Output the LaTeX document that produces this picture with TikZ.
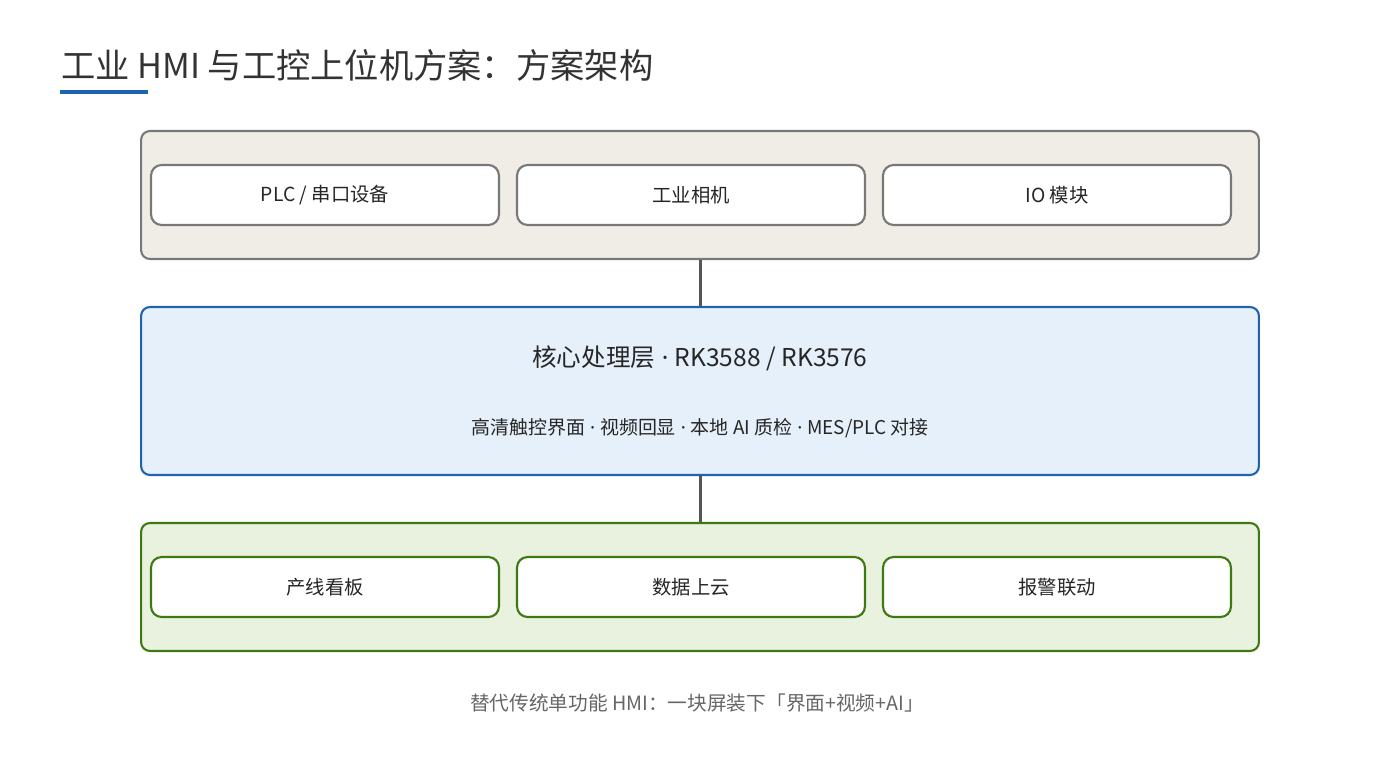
\documentclass[tikz,border=0pt]{standalone}
\usepackage{fontspec}
\setmainfont{Noto Sans CJK SC}
\newfontfamily\latinfont{Noto Sans}
\newcommand\sepdot{{\latinfont\ ·\ }}
\usepackage{tikz}
\definecolor{inputfill}{HTML}{F0EDE6}
\definecolor{inputline}{HTML}{787878}
\definecolor{corefill}{HTML}{E6F0FA}
\definecolor{coreline}{HTML}{1F62AD}
\definecolor{outfill}{HTML}{E9F2DF}
\definecolor{outline}{HTML}{3D7A12}
\definecolor{linkgray}{HTML}{555555}
\definecolor{titlebar}{HTML}{1F62AD}

\begin{document}
\begin{tikzpicture}[x=0.02cm, y=-0.02cm]
    \tikzstyle{layer} = [rectangle, draw, line width=1.2pt, rounded corners=5pt,
                         minimum width=22.36cm, inner sep=0pt]
    \tikzstyle{item} = [rectangle, draw, fill=white, line width=1.2pt, rounded corners=6pt,
                        minimum width=6.96cm, minimum height=1.2cm, inner sep=0pt,
                        font=\fontsize{11}{13}\selectfont, text=black!85]
    \tikzstyle{link} = [draw=linkgray, line width=1.7pt]
  \useasboundingbox (0,0) rectangle (1400,760);
  \node[anchor=west, font=\fontsize{19.5}{23}\selectfont, text=black!80] (title) at (55,65) {工业 HMI 与工控上位机方案：方案架构};
  \fill[titlebar] (60,90) rectangle (148,94);
  % layers
  \node[layer, fill=inputfill, draw=inputline, minimum height=2.56cm] (input) at (700,195) {};
  \node[layer, fill=corefill, draw=coreline, minimum height=3.36cm] (core) at (700,391) {};
  \node[layer, fill=outfill, draw=outline, minimum height=2.56cm] (output) at (700,587) {};
  % input devices
  \node[item, draw=inputline] (plc) at (325,195) {PLC / 串口设备};
  \node[item, draw=inputline] (camera) at (691,195) {工业相机};
  \node[item, draw=inputline] (io) at (1057,195) {IO 模块};
  % core text
  \node[font=\fontsize{14}{17}\selectfont, text=black!85] (coretitle) at (700,358) {核心处理层\sepdot RK3588 / RK3576};
  \node[font=\fontsize{10.8}{13}\selectfont, text=black!85] (corefeat) at (700,428) {高清触控界面\sepdot 视频回显\sepdot 本地 AI 质检\sepdot MES/PLC 对接};
  % outputs
  \node[item, draw=outline] (board) at (325,587) {产线看板};
  \node[item, draw=outline] (cloud) at (691,587) {数据上云};
  \node[item, draw=outline] (alarm) at (1057,587) {报警联动};
  \draw[link] (input) -- (core);
  \draw[link] (core) -- (output);
  \node[font=\fontsize{11.2}{13}\selectfont, text=black!60] (caption) at (697,703) {替代传统单功能 HMI：一块屏装下「界面+视频+AI」};
\end{tikzpicture}
\end{document}
